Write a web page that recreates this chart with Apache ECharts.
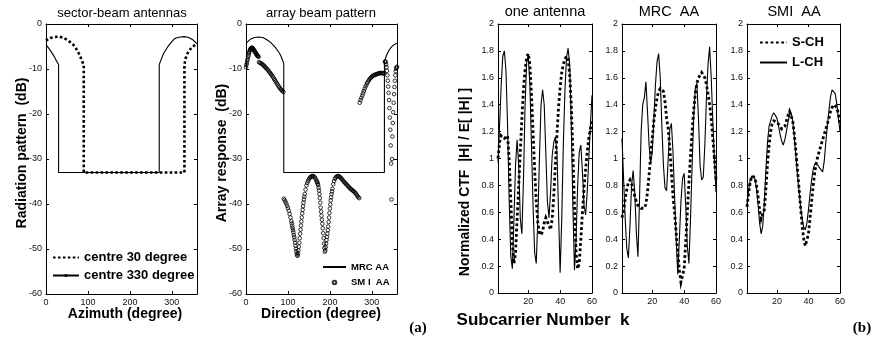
<!DOCTYPE html>
<html><head><meta charset="utf-8">
<script src="https://cdn.jsdelivr.net/npm/echarts@6/dist/echarts.min.js"></script>
<style>html,body{margin:0;padding:0;background:#fff}#c{width:878px;height:345px}</style>
</head><body><div id="c"></div>
<script>
// ---------- (a) sector-beam antennas ----------
const sector30Deg = [0,10,20,30,40,50,60,65,70,77,82,86,90,90,330,330,333,337,341,350,360];
const sector30Db  = [-3.7,-3.1,-2.9,-2.8,-3.0,-3.5,-4.2,-4.6,-5.2,-6.3,-7.3,-8.3,-9.0,-33,-33,-9.0,-7.6,-6.6,-5.9,-5.0,-4.4];
const sector330Deg = [0,10,20,25,30,30,270,270,275,280,290,300,305,310,320,330,340,350,360];
const sector330Db  = [-4.6,-5.8,-7.3,-8.2,-9.0,-33,-33,-9.0,-7.8,-6.6,-5.1,-3.9,-3.4,-3.1,-2.9,-2.8,-3.0,-3.5,-4.4];
// ---------- (a) array beam pattern ----------
const mrcDeg = [0,10,20,30,40,50,60,70,80,85,90,90,330,330,335,340,345,350,355,360];
const mrcDb  = [-4.3,-3.4,-3.0,-2.9,-3.0,-3.5,-4.2,-5.2,-6.5,-7.5,-8.8,-33,-33,-8.3,-7.0,-6.0,-5.3,-4.8,-4.5,-4.3];
// SMI array response, read segment by segment
const smiDegA = [0,1,2,3,4,5,6,7,8,9,10,11,12,13,14,15,16,17,18,19,20,21,22,23,24,25,26,27,28,29,30];
const smiDbA  = [-9.6,-9.1,-8.7,-8.2,-7.8,-7.3,-6.9,-6.5,-6.2,-5.9,-5.7,-5.5,-5.4,-5.3,-5.3,-5.3,-5.4,-5.5,-5.7,-5.8,
  -6.0,-6.1,-6.3,-6.4,-6.6,-6.7,-6.9,-7.0,-7.1,-7.2,-7.3];
const smiDegB = [31,33,35,37,39,41,43,45,47,49,51,53,55,57,59,61,63,65,67,69,71,73,75,77,79,81,83,85,87,89];
const smiDbB  = [-8.5,-8.6,-8.7,-8.8,-9.0,-9.1,-9.3,-9.5,-9.7,-9.9,-10.1,-10.3,-10.6,-10.8,-11.1,-11.3,-11.6,-11.9,-12.2,-12.5,
  -12.8,-13.1,-13.4,-13.7,-14.0,-14.3,-14.5,-14.7,-14.9,-15.1];
const smiDegC = [90,92,94,96,98,100,102,104,106,108,
  109,110,111,112,113,114,115,116,117,118,119,120,121,122,123,124,125,126,127,128,129,130,131,132,133,134,135,136,137,138,139,140,
  142,144,146,148,150,152,154,156,158,160,162,164,166,168,
  169,170,171,172,173,174,175,176,177,178,179,180,181,182,183,184,185,186,187,188,189,190,191,192,193,194,195,196,197,198,
  199,200,201,202,203,204,205,206,
  208,210,212,214,216,218,220,222,224,226,228,230,232,234,236,238,240,242,244,246,248,250,252,254,256,258,260,262,264,266,268,270];
const smiDbC  = [-38.8,-39.1,-39.5,-39.9,-40.4,-40.9,-41.5,-42.2,-43.0,-43.8,
  -44.3,-44.8,-45.3,-45.8,-46.3,-46.9,-47.4,-48.0,-48.6,-49.3,-49.9,-50.5,-51.0,-51.4,-51.5,-51.0,-50.3,-49.5,-48.6,-47.6,
  -46.6,-45.7,-44.8,-43.9,-43.0,-42.1,-41.3,-40.5,-39.7,-39.0,-38.4,-37.8,
  -36.8,-35.9,-35.3,-34.9,-34.5,-34.2,-34.0,-33.9,-33.8,-33.8,-33.9,-34.1,-34.4,-34.8,
  -35.0,-35.2,-35.5,-35.8,-36.4,-37.0,-37.8,-38.7,-39.7,-40.8,-41.7,-42.6,-43.5,-44.4,-45.4,-46.5,-47.6,-48.8,-49.8,-50.6,
  -50.3,-49.6,-48.8,-48.0,-47.3,-46.6,-45.8,-45.0,-44.0,-43.0,-42.0,-41.0,-40.1,-39.2,-38.5,-37.8,-37.2,-36.6,
  -35.6,-34.9,-34.4,-34.1,-33.9,-33.8,-33.8,-33.9,-34.0,-34.2,-34.4,-34.6,-34.9,-35.1,-35.3,-35.5,-35.7,-35.9,-36.1,-36.3,
  -36.5,-36.7,-36.8,-37.0,-37.1,-37.3,-37.5,-37.7,-38.0,-38.3,-38.5,-38.7];
const smiDegD = [271,273,275,277,279,281,283,285,287,289,291,293,295,297,299,301,303,305,307,309,
  311,313,315,317,319,321,323,325,327,329];
const smiDbD  = [-17.5,-16.9,-16.4,-15.9,-15.4,-14.9,-14.4,-13.9,-13.5,-13.1,-12.8,-12.5,-12.2,-12.0,-11.8,-11.6,-11.5,-11.4,-11.3,-11.2,
  -11.2,-11.1,-11.0,-11.0,-10.9,-10.9,-10.9,-10.9,-11.0,-11.0];
const smiDegE = [331,332,333,334,335,336,337,338,339,340,341,342,343,344,345,346,347,348,349,350,
  351,352,353,354,355,356,357,358,359,360];
const smiDbE  = [-8.4,-8.3,-8.5,-9.0,-9.6,-10.4,-11.4,-12.6,-13.9,-15.3,-16.9,-18.7,-20.8,-23.5,-27.0,-31.0,-39.0,-30.0,-25.0,-22.0,
  -19.6,-17.5,-15.6,-14.0,-12.6,-11.4,-10.5,-9.9,-9.6,-9.5];
// ---------- (b) normalized CTF ----------
const subcarrier = [1,2,3,4,5,6,7,8,9,10,11,12,13,14,15,16,17,18,19,20,21,22,23,24,25,26,27,28,29,30,
  31,32,33,34,35,36,37,38,39,40,41,42,43,44,45,46,47,48,49,50,51,52,53,54,55,56,57,58,59,60];
const subcarrierTicks = [20,40,60];
const oneAntennaL = [0.97,1.25,1.55,1.76,1.80,1.65,1.25,0.70,0.28,0.18, 0.55,0.95,1.14,0.95,0.55,0.44,0.85,1.40,1.72,1.76,
  1.55,1.10,0.65,0.30,0.22,0.55,1.00,1.40,1.51,1.40, 1.05,0.68,0.56,0.75,1.02,1.12,1.16,1.05,0.60,0.15,
  0.55,1.10,1.50,1.75,1.82,1.70,1.25,0.65,0.17,0.40, 0.80,1.05,1.10,0.90,0.65,0.58,0.75,1.00,1.25,1.47];
const oneAntennaS = [1.00,1.12,1.17,1.16,1.15,1.16,1.17,1.00,0.70,0.38, 0.22,0.30,0.55,0.80,1.05,1.30,1.52,1.66,1.75,1.78,
  1.70,1.48,1.20,0.92,0.68,0.52,0.45,0.43,0.46,0.52, 0.56,0.56,0.50,0.47,0.55,0.72,0.95,1.18,1.38,1.53,
  1.64,1.70,1.74,1.76,1.74,1.62,1.40,1.05,0.65,0.30, 0.18,0.22,0.40,0.60,0.78,0.92,1.05,1.15,1.22,1.28];
const mrcL = [1.15,0.85,0.55,0.33,0.26,0.50,0.80,0.91,0.75,0.45, 0.27,0.70,1.20,1.40,1.45,1.57,1.35,1.10,0.96,1.05,
  1.30,1.55,1.72,1.78,1.60,1.25,0.95,0.78,0.76,1.00, 1.22,1.26,1.05,0.72,0.40,0.14,0.40,0.68,0.85,0.89,
  0.65,0.35,0.22,0.55,0.95,1.30,1.52,1.56,1.30,0.95, 0.84,0.86,1.10,1.45,1.70,1.83,1.60,1.28,1.00,0.75];
const mrcS = [0.56,0.62,0.70,0.77,0.82,0.84,0.83,0.78,0.72,0.68, 0.65,0.64,0.63,0.62,0.63,0.66,0.75,0.88,1.02,1.15,
  1.28,1.38,1.45,1.50,1.52,1.52,1.50,1.42,1.30,1.22, 1.08,0.90,0.72,0.60,0.45,0.30,0.17,0.08,0.07,0.18,
  0.38,0.60,0.82,1.02,1.20,1.36,1.48,1.56,1.60,1.62, 1.64,1.63,1.60,1.55,1.48,1.40,1.30,1.15,1.00,0.84];
const smiL = [0.66,0.76,0.84,0.87,0.88,0.85,0.78,0.66,0.52,0.44, 0.50,0.68,0.92,1.12,1.24,1.28,1.32,1.34,1.34,1.30,
  1.24,1.18,1.13,1.10,1.14,1.20,1.27,1.32,1.34,1.28, 1.16,1.02,0.88,0.76,0.64,0.55,0.49,0.47,0.52,0.62,
  0.74,0.84,0.92,0.96,0.97,0.95,0.93,0.92,0.90,0.98, 1.12,1.25,1.36,1.46,1.51,1.52,1.48,1.40,1.30,1.20];
const smiS = [0.64,0.74,0.82,0.87,0.88,0.86,0.80,0.72,0.62,0.55, 0.54,0.62,0.78,0.96,1.10,1.20,1.26,1.28,1.28,1.27,
  1.26,1.24,1.22,1.22,1.24,1.28,1.32,1.35,1.34,1.28, 1.18,1.06,0.92,0.78,0.64,0.50,0.40,0.35,0.36,0.44,
  0.56,0.68,0.80,0.90,0.97,1.02,1.06,1.10,1.14,1.18, 1.22,1.26,1.30,1.35,1.38,1.40,1.40,1.38,1.33,1.26];

// ---------- styling / building ----------
const FF = '"Liberation Sans", Arial, sans-serif';
const zip = (xs, ys) => xs.map((x, i) => [x, ys[i]]);
const smiData = [].concat(zip(smiDegA, smiDbA), zip(smiDegB, smiDbB), zip(smiDegC, smiDbC), zip(smiDegD, smiDbD), zip(smiDegE, smiDbE));
const tick = {show:true, inside:true, length:3, lineStyle:{color:'#000', width:1}};
const axLine = {show:true, onZero:false, lineStyle:{color:'#000', width:1}};
const lbl = {show:true, fontSize:9, color:'#111', fontFamily:FF};
const noSplit = {show:false};
const gridBase = {show:false, containLabel:false, outerBoundsMode:'none'};
const rects = [
  {left:46, top:24, width:151, height:270},
  {left:246, top:24, width:151, height:270},
  {left:498, top:24, width:94, height:269},
  {left:622, top:24, width:94, height:269},
  {left:747, top:24, width:93, height:269}
];
const grid = rects.map(r => Object.assign({}, gridBase, r));

function angX(gi, pos){ return {type:'value', gridIndex:gi, position:pos, min:0, max:360, interval:100,
  axisLine:axLine, axisTick:tick,
  axisLabel: pos==='bottom' ? Object.assign({}, lbl, {margin:4, showMaxLabel:false}) : {show:false}, splitLine:noSplit}; }
function subX(gi, pos){ return {type:'value', gridIndex:gi, position:pos, min:1, max:60,
  axisLine:axLine, axisTick:Object.assign({}, tick, {customValues:subcarrierTicks}),
  axisLabel: pos==='bottom' ? Object.assign({}, lbl, {margin:4, customValues:subcarrierTicks}) : {show:false},
  splitLine:noSplit}; }
function dbY(gi, pos){ return {type:'value', gridIndex:gi, position:pos, min:-60, max:0, interval:10,
  axisLine:axLine, axisTick:tick, axisLabel: pos==='left' ? Object.assign({}, lbl, {margin:4}) : {show:false}, splitLine:noSplit}; }
function ctfY(gi, pos){ return {type:'value', gridIndex:gi, position:pos, min:0, max:2, interval:0.2,
  axisLine:axLine, axisTick:tick, axisLabel: pos==='left' ? Object.assign({}, lbl, {margin:4}) : {show:false}, splitLine:noSplit}; }

const xAxis = [angX(0,'bottom'), angX(0,'top'), angX(1,'bottom'), angX(1,'top'),
  subX(2,'bottom'), subX(2,'top'), subX(3,'bottom'), subX(3,'top'), subX(4,'bottom'), subX(4,'top')];
const yAxis = [dbY(0,'left'), dbY(0,'right'), dbY(1,'left'), dbY(1,'right'),
  ctfY(2,'left'), ctfY(2,'right'), ctfY(3,'left'), ctfY(3,'right'), ctfY(4,'left'), ctfY(4,'right')];

const dotted = w => ({color:'#000', width:w, type:[w, w*0.9], cap:'butt', join:'miter'});
const solid = {color:'#000', width:1.1};
function lineSeries(name, xi, yi, data, ls, sym){
  return {type:'line', name, xAxisIndex:xi, yAxisIndex:yi, data, lineStyle:ls,
    itemStyle:{color:'#000'}, symbol: sym || 'none', symbolSize:3, showSymbol:false, animation:false, z:3};
}
const series = [
  lineSeries('centre 330 degree', 0, 0, zip(sector330Deg, sector330Db), solid, 'circle'),
  lineSeries('centre 30 degree', 0, 0, zip(sector30Deg, sector30Db), dotted(2.6)),
  lineSeries('MRC AA', 2, 2, zip(mrcDeg, mrcDb), solid),
  {type:'scatter', name:'SM I  AA', xAxisIndex:2, yAxisIndex:2, data:smiData, symbol:'circle', symbolSize:3.6,
    itemStyle:{color:'rgba(0,0,0,0)', borderColor:'#000', borderWidth:1}, animation:false, z:4},
  lineSeries('S-CH', 4, 4, zip(subcarrier, oneAntennaS), dotted(2.8)),
  lineSeries('L-CH', 4, 4, zip(subcarrier, oneAntennaL), solid),
  lineSeries('S-CH', 6, 6, zip(subcarrier, mrcS), dotted(2.8)),
  lineSeries('L-CH', 6, 6, zip(subcarrier, mrcL), solid),
  lineSeries('S-CH', 8, 8, zip(subcarrier, smiS), dotted(2.8)),
  lineSeries('L-CH', 8, 8, zip(subcarrier, smiL), solid)
];

const legTxt = (fs) => ({fontFamily:FF, fontSize:fs, fontWeight:'bold', color:'#000'});
const legend = [
  {data:[{name:'centre 30 degree', itemStyle:{opacity:0}}, {name:'centre 330 degree'}], left:52, top:251, orient:'vertical',
    itemWidth:26, itemHeight:4, itemGap:5, padding:0, selectedMode:false, textStyle:legTxt(13)},
  {data:[{name:'MRC AA', itemStyle:{opacity:0}}, {name:'SM I  AA'}], left:322, top:262, orient:'vertical',
    itemWidth:23, itemHeight:3.6, itemGap:5.5, padding:0, selectedMode:false, textStyle:legTxt(9.5)},
  {data:[{name:'S-CH', itemStyle:{opacity:0}}, {name:'L-CH', itemStyle:{opacity:0}}], left:759, top:36, orient:'vertical',
    itemWidth:27, itemHeight:4, itemGap:7, padding:0, selectedMode:false, textStyle:legTxt(13)}
];

function txt(x, y, text, font, rot){
  return {type:'text', x, y, rotation: rot || 0, silent:true,
    style:{text, font, fill:'#000', align:'center', verticalAlign:'middle', textAlign:'center', textVerticalAlign:'middle'}};
}
const graphic = [
  txt(122, 13, 'sector-beam antennas', '13px ' + FF),
  txt(321, 13, 'array beam pattern', '13px ' + FF),
  txt(545, 12, 'one antenna', '14.5px ' + FF),
  txt(669, 12, 'MRC  AA', '14.5px ' + FF),
  txt(794, 12, 'SMI  AA', '14.5px ' + FF),
  txt(22, 153, 'Radiation pattern  (dB)', 'bold 14px ' + FF, Math.PI/2),
  txt(125, 314, 'Azimuth (degree)', 'bold 14px ' + FF),
  txt(222, 153, 'Array response  (dB)', 'bold 14px ' + FF, Math.PI/2),
  txt(321, 314, 'Direction (degree)', 'bold 14px ' + FF),
  txt(465, 182, 'Normalized CTF  |H| / E[ |H| ]', 'bold 14px ' + FF, Math.PI/2),
  txt(543, 320, 'Subcarrier Number  k', 'bold 17px ' + FF),
  txt(418, 328, '(a)', 'bold 15px "Liberation Serif", "Times New Roman", serif'),
  txt(862, 328, '(b)', 'bold 15px "Liberation Serif", "Times New Roman", serif')
];

const chart = echarts.init(document.getElementById('c'), null, {renderer:'canvas'});
chart.setOption({
  backgroundColor:'#fff', animation:false, textStyle:{fontFamily:FF},
  grid, xAxis, yAxis, series, legend, graphic, tooltip:{show:false}
});
</script>
</body></html>
